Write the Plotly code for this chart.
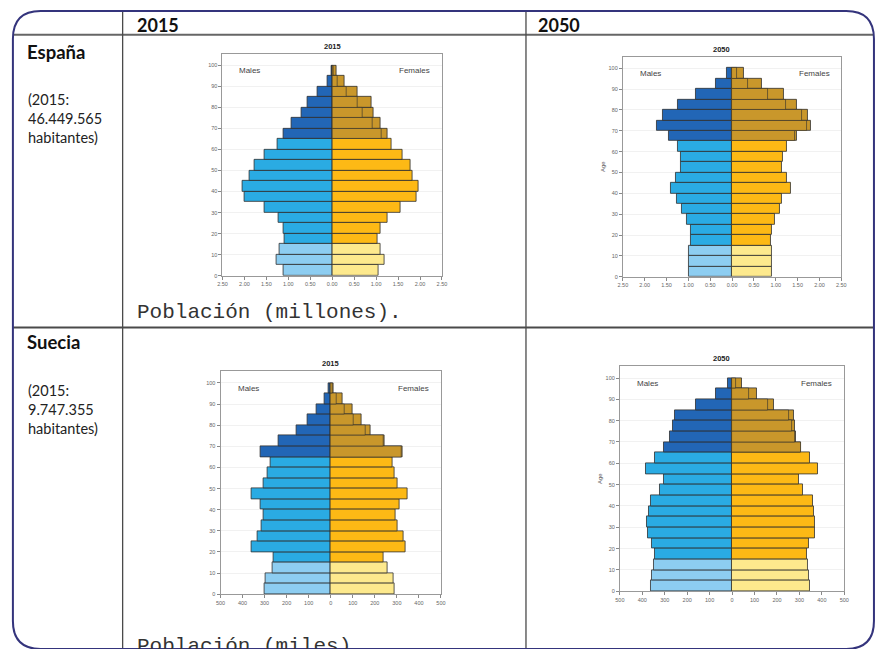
import plotly.graph_objects as go

W, H = 875, 649

# ---------------- data ----------------
AGE_GROUPS = ["0-4", "5-9", "10-14", "15-19", "20-24", "25-29", "30-34", "35-39",
              "40-44", "45-49", "50-54", "55-59", "60-64", "65-69", "70-74",
              "75-79", "80-84", "85-89", "90-94", "95-99"]

# España, millones
SPAIN_2015_MALES = [1.12, 1.27, 1.20, 1.08, 1.11, 1.23, 1.54, 1.99, 2.05, 1.88,
                    1.78, 1.55, 1.25, 1.12, 0.92, 0.70, 0.57, 0.33, 0.11, 0.02]
SPAIN_2015_FEMALES = [1.06, 1.19, 1.11, 1.02, 1.10, 1.25, 1.55, 1.93, 1.97, 1.83,
                      1.78, 1.61, 1.36, 1.25, 1.09, 0.93, 0.89, 0.57, 0.27, 0.09]
SPAIN_2050_MALES = [0.98, 0.99, 0.99, 0.95, 0.95, 1.03, 1.16, 1.26, 1.41, 1.29,
                    1.17, 1.18, 1.23, 1.44, 1.72, 1.59, 1.23, 0.82, 0.37, 0.11]
SPAIN_2050_FEMALES = [0.90, 0.90, 0.90, 0.89, 0.91, 0.98, 1.10, 1.15, 1.35, 1.26,
                      1.14, 1.17, 1.25, 1.49, 1.81, 1.74, 1.49, 1.19, 0.68, 0.26]

# Suecia, miles
SWEDEN_2015_MALES = [301, 298, 266, 260, 361, 334, 313, 305, 319, 361,
                     304, 289, 274, 319, 238, 156, 105, 63, 27, 8]
SWEDEN_2015_FEMALES = [289, 283, 256, 241, 341, 331, 301, 296, 313, 349,
                       301, 289, 278, 326, 244, 180, 140, 101, 53, 12]
SWEDEN_2050_MALES = [364, 357, 350, 345, 357, 376, 379, 372, 364, 320,
                     305, 386, 342, 305, 279, 265, 254, 161, 74, 18]
SWEDEN_2050_FEMALES = [347, 341, 336, 333, 341, 367, 370, 366, 358, 317,
                       299, 383, 347, 307, 285, 280, 274, 186, 111, 44]

SPAIN_TICKS = [-2.5, -2.0, -1.5, -1.0, -0.5, 0.0, 0.5, 1.0, 1.5, 2.0, 2.5]
SPAIN_TICK_LABELS = ["2.50", "2.00", "1.50", "1.00", "0.50", "0.00",
                     "0.50", "1.00", "1.50", "2.00", "2.50"]
SWEDEN_TICKS = [-500, -400, -300, -200, -100, 0, 100, 200, 300, 400, 500]
SWEDEN_TICK_LABELS = ["500", "400", "300", "200", "100", "0",
                      "100", "200", "300", "400", "500"]
AGE_TICKS = [0, 10, 20, 30, 40, 50, 60, 70, 80, 90, 100]

COL_HEADERS = ["2015", "2050"]
ROW_TITLES = ["España", "Suecia"]
ROW_NOTES = [["(2015:", "46.449.565", "habitantes)"],
             ["(2015:", "9.747.355", "habitantes)"]]
UNIT_NOTES = ["Población (millones).", "Población (miles)."]

# ---------------- styles ----------------
M_LIGHT, M_MID, M_DARK = "#8dcdf1", "#2aabe3", "#2266b6"
F_LIGHT, F_MID, F_DARK = "#fde98d", "#fdb915", "#c9972b"
OUTLINE = "#2e2e2e"
FRAME = "#34347c"
TABLE = "#4a4a4a"


def px(x):
    return x / W


def py(y):
    return 1 - y / H


def age_start(label):
    return int(label.split("-")[0])


starts = [age_start(a) for a in AGE_GROUPS]
centers = [s + 2.5 for s in starts]


def colors(light, mid, dark):
    return [light if s < 15 else (mid if s < 65 else dark) for s in starts]


panels = [
    dict(m=SPAIN_2015_MALES, f=SPAIN_2015_FEMALES, xr=[-2.5, 2.5], tv=SPAIN_TICKS,
         tt=SPAIN_TICK_LABELS, box=(220, 54, 442, 277), title="2015", age=False),
    dict(m=SPAIN_2050_MALES, f=SPAIN_2050_FEMALES, xr=[-2.5, 2.5], tv=SPAIN_TICKS,
         tt=SPAIN_TICK_LABELS, box=(625, 57, 846, 278), title="2050", age=True),
    dict(m=SWEDEN_2015_MALES, f=SWEDEN_2015_FEMALES, xr=[-500, 500], tv=SWEDEN_TICKS,
         tt=SWEDEN_TICK_LABELS, box=(218, 373, 441, 597), title="2015", age=False),
    dict(m=SWEDEN_2050_MALES, f=SWEDEN_2050_FEMALES, xr=[-500, 500], tv=SWEDEN_TICKS,
         tt=SWEDEN_TICK_LABELS, box=(622, 368, 849, 594), title="2050", age=True),
]

fig = go.Figure()
layout = dict(
    width=W, height=H, margin=dict(l=0, r=0, t=0, b=0),
    paper_bgcolor="white", plot_bgcolor="white",
    barmode="overlay", bargap=0, showlegend=False,
    font=dict(family="Liberation Sans, Arial, sans-serif", color="#333"),
)
annotations = []
shapes = []

for i, p in enumerate(panels, start=1):
    xa = "x" if i == 1 else f"x{i}"
    ya = "y" if i == 1 else f"y{i}"
    x0, y0, x1, y1 = p["box"]
    fig.add_trace(go.Bar(
        x=[-v for v in p["m"]], y=centers, width=5, orientation="h",
        marker=dict(color=colors(M_LIGHT, M_MID, M_DARK), line=dict(color=OUTLINE, width=0.8)),
        xaxis=xa, yaxis=ya, hoverinfo="skip"))
    fig.add_trace(go.Bar(
        x=p["f"], y=centers, width=5, orientation="h",
        marker=dict(color=colors(F_LIGHT, F_MID, F_DARK), line=dict(color=OUTLINE, width=0.8)),
        xaxis=xa, yaxis=ya, hoverinfo="skip"))
    # male share drawn inside the older female bars
    old_y = [c for c, s, m, f in zip(centers, starts, p["m"], p["f"]) if s >= 65 and m < f]
    old_x = [m for s, m, f in zip(starts, p["m"], p["f"]) if s >= 65 and m < f]
    fig.add_trace(go.Bar(
        x=old_x, y=old_y, width=5, orientation="h",
        marker=dict(color=F_DARK, line=dict(color=OUTLINE, width=0.6)),
        xaxis=xa, yaxis=ya, hoverinfo="skip"))

    xk = "xaxis" if i == 1 else f"xaxis{i}"
    yk = "yaxis" if i == 1 else f"yaxis{i}"
    layout[xk] = dict(
        domain=[px(x0), px(x1)], anchor=ya, range=p["xr"], tickvals=p["tv"], ticktext=p["tt"],
        tickfont=dict(size=5.5, color="#666"), ticks="outside", ticklen=3, tickcolor="#888",
        showline=True, mirror=True, linecolor="#999", linewidth=1,
        showgrid=False, zeroline=False, fixedrange=True)
    layout[yk] = dict(
        domain=[py(y1), py(y0)], anchor=xa, range=[0, 105.5], tickvals=AGE_TICKS,
        tickfont=dict(size=5.5, color="#666"), ticks="outside", ticklen=3, tickcolor="#888",
        showline=True, mirror=True, linecolor="#999", linewidth=1,
        showgrid=True, gridcolor="#f1f1f1", zeroline=False, fixedrange=True)
    if p["age"]:
        layout[yk]["title"] = dict(text="Age", font=dict(size=6, color="#555"), standoff=2)

    annotations.append(dict(
        xref="paper", yref="paper", x=px((x0 + x1) / 2), y=py(y0 - 1),
        text=f"<b>{p['title']}</b>", showarrow=False, yanchor="bottom",
        font=dict(size=7.5, color="#222")))
    xmax = p["xr"][1]
    annotations.append(dict(xref=xa, yref=ya, x=-0.75 * xmax, y=97.5, text="Males",
                            showarrow=False, font=dict(size=8, color="#444")))
    annotations.append(dict(xref=xa, yref=ya, x=0.75 * xmax, y=97.5, text="Females",
                            showarrow=False, font=dict(size=8, color="#444")))

# ---------------- table text ----------------
for x, t in zip([131, 537], COL_HEADERS):
    annotations.append(dict(xref="paper", yref="paper", x=px(x), y=py(25), text=f"<b>{t}</b>",
                            xanchor="left", yanchor="middle", showarrow=False,
                            font=dict(family="Lato, Open Sans, sans-serif", size=18, color="#111")))

for row_y, title, notes in zip([52, 344], ROW_TITLES, ROW_NOTES):
    annotations.append(dict(xref="paper", yref="paper", x=px(20), y=py(row_y), text=f"<b>{title}</b>",
                            xanchor="left", yanchor="middle", showarrow=False,
                            font=dict(family="Lato, Open Sans, sans-serif", size=18.5, color="#111")))
    for k, line in enumerate(notes):
        annotations.append(dict(xref="paper", yref="paper", x=px(21), y=py(row_y + 48 + 19 * k),
                                text=line, xanchor="left", yanchor="middle", showarrow=False,
                                font=dict(family="Lato, Open Sans, sans-serif", size=14.5, color="#222")))

for y, t in zip([314, 650], UNIT_NOTES):
    annotations.append(dict(xref="paper", yref="paper", x=px(131), y=py(y), text=t,
                            xanchor="left", yanchor="middle", showarrow=False,
                            font=dict(family="Liberation Mono, Courier New, monospace", size=21,
                                      color="#333")))

# ---------------- table lines & frame ----------------
def line(xa_, ya_, xb_, yb_, color, width):
    shapes.append(dict(type="line", xref="paper", yref="paper", x0=px(xa_), y0=py(ya_),
                       x1=px(xb_), y1=py(yb_), line=dict(color=color, width=width)))


line(8, 35, 879, 35, "#666", 2)
line(8, 329, 879, 329, TABLE, 2)
line(119, 11, 119, 652, TABLE, 1.3)
line(527, 11, 527, 652, TABLE, 1.3)

fx0, fy0, fx1, fy1, r = 8, 11, 879, 652, 28


def P(x, y):
    return f"{px(x):.5f},{py(y):.5f}"


path = (f"M {P(fx0 + r, fy0)} L {P(fx1 - r, fy0)} Q {P(fx1, fy0)} {P(fx1, fy0 + r)} "
        f"L {P(fx1, fy1 - r)} Q {P(fx1, fy1)} {P(fx1 - r, fy1)} "
        f"L {P(fx0 + r, fy1)} Q {P(fx0, fy1)} {P(fx0, fy1 - r)} "
        f"L {P(fx0, fy0 + r)} Q {P(fx0, fy0)} {P(fx0 + r, fy0)} Z")
shapes.append(dict(type="path", xref="paper", yref="paper", path=path,
                   line=dict(color=FRAME, width=2), fillcolor="rgba(0,0,0,0)"))

layout["annotations"] = annotations
layout["shapes"] = shapes
fig.update_layout(**layout)

fig.write_html(
    "out.html",
    config={"displayModeBar": False},
    post_script="document.body.style.margin='0';document.body.style.overflow='hidden';",
)
